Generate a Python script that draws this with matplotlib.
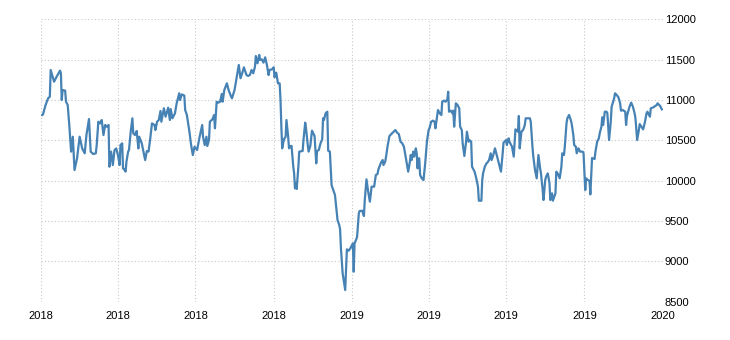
import matplotlib
matplotlib.use("Agg")
import matplotlib.pyplot as plt
import matplotlib.dates as mdates
import pandas as pd

# Daily index level, sampled: days since 2018-01-01 and closing value
day_offset = [
    1, 2, 5, 8, 10, 11, 15, 18, 22, 23, 24, 25, 28, 29, 31, 33, 35, 37, 39, 42,
    45, 48, 51, 53, 56, 58, 61, 64, 65, 67, 69, 71, 73, 75, 77, 79, 80, 82, 84, 86,
    88, 90, 92, 93, 95, 96, 98, 99, 100, 102, 103, 105, 107, 108, 110, 112, 114, 115, 118, 120,
    122, 124, 126, 128, 130, 133, 134, 136, 138, 140, 141, 144, 146, 149, 151, 152, 154, 157, 159, 162,
    163, 165, 168, 169, 171, 174, 176, 178, 180, 183, 186, 189, 190, 192, 194, 195, 197, 198, 201, 203,
    204, 206, 208, 210, 212, 213, 215, 218, 220, 223, 224, 227, 229, 232, 234, 236, 238, 241, 243, 245,
    247, 249, 251, 252, 254, 256, 257, 259, 261, 263, 265, 267, 268, 271, 273, 274, 276, 278, 280, 281,
    282, 283, 285, 287, 288, 290, 291, 293, 294, 296, 297, 298, 299, 300, 302, 303, 307, 308, 310, 311,
    313, 314, 316, 318, 321, 323, 324, 326, 328, 330, 331, 332, 334, 336, 337, 339, 341, 343, 345, 348,
    350, 351, 352, 354, 357, 358, 359, 361, 363, 365, 366, 367, 368, 370, 371, 373, 374, 377, 379, 380,
    382, 384, 386, 388, 391, 393, 395, 396, 399, 401, 402, 404, 405, 407, 409, 412, 414, 416, 418, 420,
    422, 424, 426, 427, 430, 431, 433, 434, 435, 437, 438, 440, 441, 442, 443, 444, 445, 447, 449, 451,
    453, 455, 456, 458, 460, 462, 463, 466, 468, 470, 471, 473, 475, 477, 478, 479, 481, 483, 484, 485,
    487, 489, 491, 492, 494, 495, 497, 499, 500, 502, 503, 505, 506, 509, 511, 513, 514, 517, 518, 519,
    521, 523, 524, 526, 528, 529, 531, 533, 535, 538, 540, 542, 543, 546, 547, 549, 550, 553, 555, 557,
    558, 560, 561, 562, 564, 566, 568, 569, 571, 574, 575, 577, 578, 580, 582, 584, 586, 587, 589, 590,
    592, 593, 595, 597, 598, 600, 601, 604, 605, 607, 609, 611, 612, 614, 615, 617, 618, 620, 622, 623,
    625, 626, 628, 629, 631, 633, 634, 636, 637, 639, 640, 642, 644, 645, 647, 650, 651, 653, 655, 656,
    658, 659, 660, 662, 664, 665, 667, 669, 670, 673, 674, 676, 678, 680, 681, 683, 686, 687, 688, 691,
    693, 695, 697, 698, 700, 702, 703, 705, 707, 709, 711, 712, 715, 716, 719, 720, 723, 724, 727, 729,
]

index_value = [
    10814, 10822, 10938, 11021, 11041, 11372, 11227, 11289, 11364, 11331, 11000, 11124, 11116, 10979, 10938, 10669, 10360, 10545, 10132, 10277,
    10545, 10400, 10339, 10566, 10764, 10360, 10330, 10339, 10433, 10731, 10710, 10752, 10566, 10690, 10669, 10690, 10173, 10360, 10194, 10380,
    10400, 10318, 10194, 10442, 10463, 10153, 10132, 10112, 10236, 10360, 10380, 10607, 10773, 10587, 10566, 10616, 10400, 10545, 10463, 10360,
    10256, 10368, 10360, 10525, 10710, 10690, 10628, 10731, 10752, 10864, 10731, 10897, 10793, 10905, 10752, 10888, 10773, 10835, 10959, 11083,
    11000, 11070, 11054, 10876, 10814, 10607, 10442, 10318, 10421, 10380, 10545, 10690, 10545, 10442, 10545, 10430, 10504, 10731, 10760, 10814,
    10649, 10979, 10967, 10979, 11074, 10979, 11124, 11207, 11124, 11041, 11021, 11124, 11248, 11434, 11269, 11331, 11405, 11310, 11298, 11310,
    11372, 11331, 11413, 11545, 11455, 11558, 11496, 11504, 11463, 11529, 11434, 11310, 11372, 11380, 11405, 11281, 11339, 11207, 11207, 11000,
    10669, 10401, 10512, 10545, 10752, 10545, 10401, 10430, 10430, 10174, 10091, 9905, 9967, 9897, 10174, 10360, 10368, 10504, 10719, 10649,
    10442, 10360, 10430, 10620, 10554, 10215, 10368, 10380, 10463, 10512, 10773, 10752, 10835, 10855, 10372, 10360, 9946, 9884, 9822, 9512,
    9450, 9397, 9161, 8851, 8645, 8893, 9149, 9132, 9161, 9202, 9223, 8872, 9223, 9273, 9306, 9595, 9624, 9628, 9562, 9760,
    10017, 9864, 9740, 9926, 9926, 10070, 10083, 10140, 10223, 10256, 10194, 10236, 10298, 10442, 10554, 10587, 10607, 10628, 10595, 10578,
    10483, 10463, 10421, 10360, 10174, 10112, 10236, 10318, 10256, 10360, 10298, 10401, 10339, 10153, 10277, 10277, 10070, 10029, 10008, 10215,
    10483, 10628, 10649, 10731, 10744, 10731, 10649, 10876, 10835, 10814, 10979, 10992, 10979, 11008, 11103, 10855, 10868, 10835, 10868, 10669,
    10959, 10938, 10897, 10669, 10628, 10463, 10306, 10483, 10607, 10483, 10504, 10483, 10174, 10112, 10029, 9926, 9752, 9752, 10008, 10091,
    10174, 10215, 10223, 10256, 10339, 10256, 10318, 10401, 10318, 10194, 10112, 10339, 10471, 10504, 10442, 10525, 10483, 10421, 10298, 10636,
    10628, 10607, 10802, 10401, 10607, 10628, 10690, 10773, 10773, 10773, 10731, 10421, 10298, 10132, 10029, 10318, 10153, 10091, 9884, 9760,
    10008, 10050, 10091, 9967, 9760, 9843, 9752, 9843, 10112, 10083, 10029, 10174, 10339, 10318, 10421, 10711, 10773, 10814, 10752, 10711,
    10566, 10442, 10421, 10339, 10401, 10360, 10360, 10360, 10339, 9884, 10029, 10008, 10000, 9830, 10281, 10269, 10360, 10483, 10525, 10587,
    10669, 10785, 10690, 10855, 10855, 10835, 10504, 10731, 10917, 11021, 11083, 11062, 11033, 10959, 10868, 10876, 10855, 10690, 10802, 10917,
    10967, 10917, 10835, 10773, 10504, 10628, 10702, 10669, 10636, 10719, 10835, 10855, 10793, 10897, 10909, 10917, 10938, 10959, 10926, 10884,
]

y_ticks = [8500, 9000, 9500, 10000, 10500, 11000, 11500, 12000]
x_start, x_end = "2018-01-01", "2020-01-01"

dates = pd.Timestamp(x_start) + pd.to_timedelta(day_offset, unit="D")

plt.rcParams["font.family"] = ["Liberation Sans", "DejaVu Sans"]

fig = plt.figure(figsize=(7.3, 3.4), dpi=100)
ax = fig.add_axes([0.0566, 0.1126, 0.8512, 0.8306])

ax.plot(dates, index_value, color="#4682b4", linewidth=1.6, solid_joinstyle="round")

ax.set_xlim(pd.Timestamp(x_start), pd.Timestamp(x_end))
ax.set_ylim(y_ticks[0], y_ticks[-1])
ax.set_yticks(y_ticks)
ax.xaxis.set_major_locator(mdates.MonthLocator(bymonth=[1, 4, 7, 10]))
ax.xaxis.set_major_formatter(mdates.DateFormatter("%Y"))

ax.yaxis.tick_right()
ax.tick_params(axis="both", length=0, labelsize=8, colors="#000000")
ax.tick_params(axis="y", pad=1.5)
ax.tick_params(axis="x", pad=6.5)

ax.grid(True, color="#c8c8c8", linestyle=(0, (1, 2)), linewidth=0.8)
ax.set_axisbelow(True)
for spine in ax.spines.values():
    spine.set_visible(False)

fig.savefig("out.png", dpi=100, facecolor="white")
